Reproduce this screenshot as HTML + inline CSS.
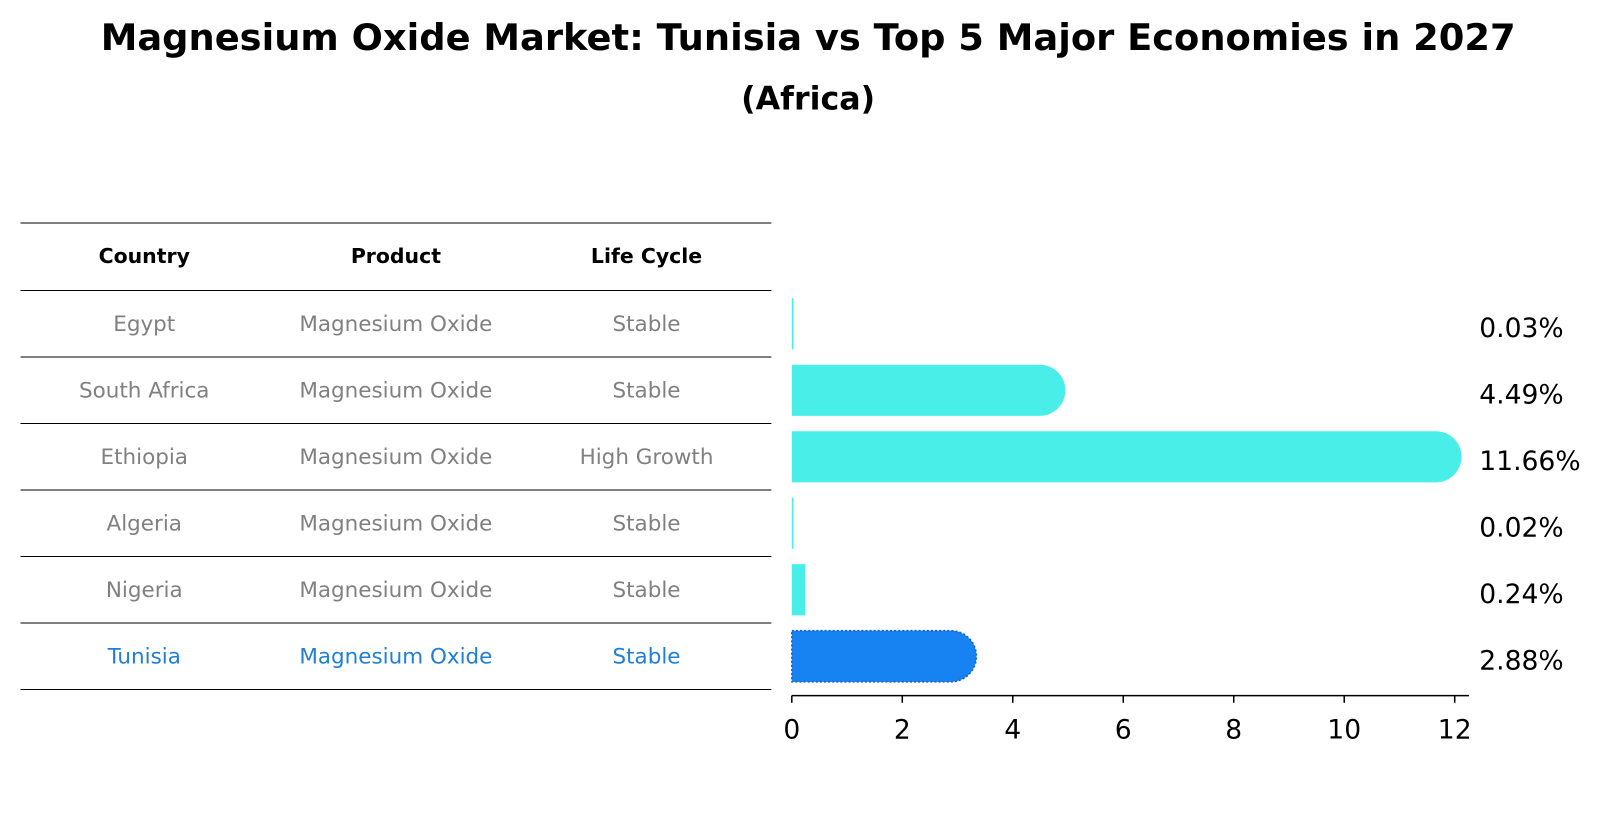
<!DOCTYPE html>
<html><head><meta charset="utf-8"><style>
body{margin:0;background:#fff;font-family:"DejaVu Sans","Liberation Sans",sans-serif;}
#root{position:relative;width:1604px;height:823px;overflow:hidden;}
</style></head><body>
<div id="root">
<svg width="1604" height="823" style="position:absolute;left:0;top:0">
<g id="g" transform="scale(1.023)">
<text x="790" y="49" text-anchor="middle" font-size="36" font-weight="bold" font-family="DejaVu Sans, sans-serif">Magnesium Oxide Market: Tunisia vs Top 5 Major Economies in 2027</text>
<text x="790" y="107" text-anchor="middle" font-size="31" font-weight="bold" font-family="DejaVu Sans, sans-serif">(Africa)</text>
</g>
</svg>
</div>
<script>
const countries=["Egypt","South Africa","Ethiopia","Algeria","Nigeria","Tunisia"];
const products=["Magnesium Oxide","Magnesium Oxide","Magnesium Oxide","Magnesium Oxide","Magnesium Oxide","Magnesium Oxide"];
const lifeCycles=["Stable","Stable","High Growth","Stable","Stable","Stable"];
const shares=[0.03,4.49,11.66,0.02,0.24,2.88];
const xTicks=[0,2,4,6,8,10,12];
const NS="http://www.w3.org/2000/svg";
const svg=document.getElementById('g');
const x0=774,pxPer=54,rowTop=284,rowH=65,barH=50;
const xs=v=>x0+v*pxPer;
const yc=i=>rowTop+rowH*i+rowH/2;
function mk(t,a,p){const e=document.createElementNS(NS,t);for(const k in a)e.setAttribute(k,a[k]);(p||svg).appendChild(e);return e;}
function txt(s,x,y,a){const e=mk('text',Object.assign({x:x,y:y,'font-family':'DejaVu Sans, sans-serif'},a));e.textContent=s;return e;}
for(let i=0;i<=countries.length+1;i++){
  const y=i===0?218:rowTop+rowH*(i-1);
  const l=mk('line',{x1:20,x2:754,y1:y,y2:y,stroke:'#000','stroke-width':1});
  
  
}
const colX=[141,387,632];
["Country","Product","Life Cycle"].forEach((h,j)=>{
  const e=txt(h,colX[j],257,{'text-anchor':'middle','font-size':20,'font-weight':'bold'});
  
  
});
countries.forEach((c,i)=>{
  const last=i===countries.length-1;
  const col=last?'#1f7fd8':'#808080';
  [c,products[i],lifeCycles[i]].forEach((s,j)=>{
    const e=txt(s,colX[j],yc(i)+7,{'text-anchor':'middle','font-size':21,fill:col});
    
    
  });
  const w=xs(shares[i])-x0;
  const r=barH/2;
  let d;
  if(w>r){d=`M${x0},${yc(i)-r} H${x0+w} A${r},${r} 0 0 1 ${x0+w},${yc(i)+r} H${x0} Z`;}
  else{d=`M${x0},${yc(i)-r} H${x0+Math.max(w,1.5)} V${yc(i)+r} H${x0} Z`;}
  const b=mk('path',{d:d,fill:last?'#1783f2':'#4aeee9',stroke:last?'#1565c0':'none','stroke-width':last?1.5:0,'stroke-dasharray':last?'2,2':''});
  
  
  const lb=txt(shares[i].toFixed(2)+'%',1446,yc(i)+13,{'font-size':26});
  
  
});
const ax=mk('line',{x1:x0,x2:1436,y1:680,y2:680,stroke:'#000','stroke-width':1.5});


xTicks.forEach(t=>{
  const tk=mk('line',{x1:xs(t),x2:xs(t),y1:680,y2:687,stroke:'#000','stroke-width':1.5});
  
  
  const tl=txt(String(t),xs(t),722,{'text-anchor':'middle','font-size':26});
  
  
});
</script>
</body></html>
